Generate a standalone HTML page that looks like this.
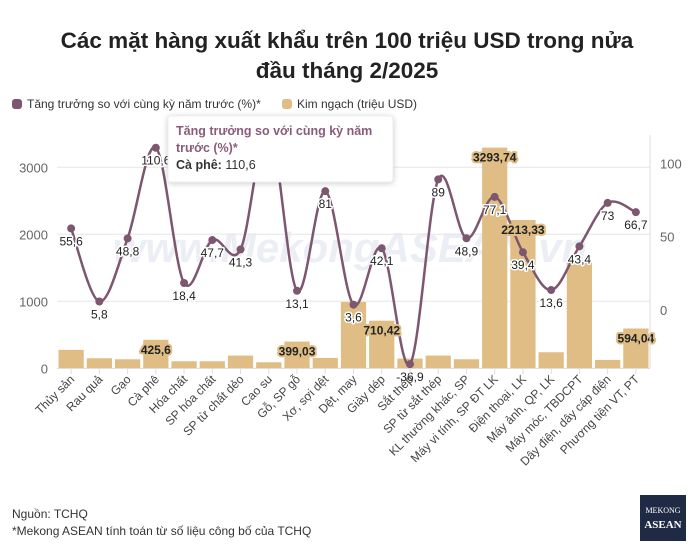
<!DOCTYPE html>
<html><head><meta charset="utf-8"><style>
body{margin:0;background:#fff;font-family:"Liberation Sans",sans-serif;}
#wrap{position:relative;width:695px;height:550px;overflow:hidden;}
</style></head><body>
<div id="wrap">
<svg id="chart" width="695" height="550" xmlns="http://www.w3.org/2000/svg">
<text x="347" y="48" text-anchor="middle" font-size="22.5" font-weight="bold" fill="#222">Các mặt hàng xuất khẩu trên 100 triệu USD trong nửa</text>
<text x="347" y="78" text-anchor="middle" font-size="22.5" font-weight="bold" fill="#222">đầu tháng 2/2025</text>
<g>
<g><rect x="12" y="99" width="10" height="10" rx="3" fill="#7d566f"/><text x="27" y="108" font-size="12" fill="#333">Tăng trưởng so với cùng kỳ năm trước (%)*</text></g>
<g><rect x="282" y="99" width="10" height="10" rx="3" fill="#dfbd85"/><text x="297" y="108" font-size="12" fill="#333">Kim ngạch (triệu USD)</text></g>
</g>
<text x="350" y="262" text-anchor="middle" font-size="42" font-style="italic" font-weight="bold" fill="#eceef5">www.MekongASEAN.vn</text>
<g id="grid"></g><g id="bars"></g><g id="line"></g><g id="labels"></g><g id="axes"></g>
<g>
<rect x="168" y="116" width="225" height="66" rx="3" fill="#fff" stroke="#eee" style="filter:drop-shadow(0 1px 3px rgba(0,0,0,0.2))"/>
<text x="176" y="135" font-size="12.5" font-weight="bold" fill="#8a5c7b">Tăng trưởng so với cùng kỳ năm</text>
<text x="176" y="152" font-size="12.5" font-weight="bold" fill="#8a5c7b">trước (%)*</text>
<text x="176" y="169" font-size="12.5" fill="#333"><tspan font-weight="bold">Cà phê:</tspan> 110,6</text>
</g>
<text x="12" y="518" font-size="12" fill="#333">Nguồn: TCHQ</text>
<text x="12" y="535" font-size="12" fill="#333">*Mekong ASEAN tính toán từ số liệu công bố của TCHQ</text>
<g><rect x="640" y="495" width="46" height="46" fill="#1f2a44"/><text x="663" y="513" text-anchor="middle" font-size="8" fill="#fff" font-family="Liberation Serif,serif">MEKONG</text><text x="663" y="528" text-anchor="middle" font-size="11" font-weight="bold" fill="#fff" font-family="Liberation Serif,serif">ASEAN</text></g>
</svg>
</div>
<script>
const categories=["Thủy sản","Rau quả","Gạo","Cà phê","Hóa chất","SP hóa chất","SP từ chất dẻo","Cao su","Gỗ, SP gỗ","Xơ, sợi dệt","Dệt, may","Giày dép","Sắt thép","SP từ sắt thép","KL thường khác, SP","Máy vi tính, SP ĐT LK","Điện thoại, LK","Máy ảnh, QP, LK","Máy móc, TBDCPT","Dây điện, dây cáp điện","Phương tiện VT, PT"];
const barValues=[275,150,135,425.6,105,105,190,90,399.03,155,990,710.42,145,190,135,3293.74,2213.33,240,1600,125,594.04];
const barLabels=[null,null,null,"425,6",null,null,null,null,"399,03",null,null,"710,42",null,null,null,"3293,74","2213,33",null,null,null,"594,04"];
const growth=[55.6,5.8,48.8,110.6,18.4,47.7,41.3,125,13.1,81,3.6,42.1,-36.9,89,48.9,77.1,39.4,13.6,43.4,73,66.7];
const growthLabels=["55,6","5,8","48,8","110,6","18,4","47,7","41,3",null,"13,1","81","3,6","42,1","-36,9","89","48,9","77,1","39,4","13,6","43,4","73","66,7"];
const leftTicks=[0,1000,2000,3000];
const rightTicks=[0,50,100];
const NS="http://www.w3.org/2000/svg";
const X0=57,X1=650,band=(X1-X0)/categories.length;
const xc=i=>X0+band*(i+0.5);
const yL=v=>368.3-v*(201/3000);
const yR=v=>310-v*1.467;
function mk(tag,attrs,parent){const e=document.createElementNS(NS,tag);for(const k in attrs)e.setAttribute(k,attrs[k]);parent.appendChild(e);return e;}
const G=id=>document.getElementById(id);
leftTicks.forEach(t=>{
 const l=mk('line',{x1:X0,x2:X1,y1:yL(t),y2:yL(t),stroke:'#e6e6e6'},G('grid'));
 
 
 const tx=mk('text',{x:48,y:yL(t)+5,'text-anchor':'end','font-size':13,fill:'#666'},G('axes'));
 tx.textContent=t;
 
 
});
rightTicks.forEach(t=>{
 const tx=mk('text',{x:660,y:yR(t)+5,'font-size':13,fill:'#666'},G('axes'));
 tx.textContent=t;
 
 
});
mk('line',{x1:X1,x2:X1,y1:135,y2:368,stroke:'#ddd'},G('axes'));
mk('line',{x1:X0,x2:X1,y1:368.5,y2:368.5,stroke:'#ddd'},G('axes'));
barValues.forEach((v,i)=>{
 const r=mk('rect',{x:xc(i)-band/2+1.5,y:yL(v),width:band-3,height:368.3-yL(v),fill:'#dfbd85'},G('bars'));
 
 
 if(barLabels[i]){
  const t=mk('text',{x:xc(i),y:yL(v)+14,'text-anchor':'middle','font-size':12,'font-weight':'bold',fill:'#222',stroke:'#dfbd85','stroke-width':4,'paint-order':'stroke','stroke-linejoin':'round'},G('labels'));
  t.textContent=barLabels[i];
  
  
 }
});
categories.forEach((c,i)=>{
 mk('line',{x1:xc(i),x2:xc(i),y1:369,y2:374,stroke:'#ddd'},G('axes'));
 const t=mk('text',{x:0,y:0,'text-anchor':'end','font-size':12,fill:'#444',transform:`translate(${xc(i)+4},${380}) rotate(-45)`},G('axes'));
 t.textContent=c;
 
 
});
const pts=growth.map((v,i)=>[xc(i),yR(v)]);
let d=`M${pts[0][0]},${pts[0][1]}`;
for(let i=0;i<pts.length-1;i++){
 const p0=pts[Math.max(0,i-1)],p1=pts[i],p2=pts[i+1],p3=pts[Math.min(pts.length-1,i+2)];
 const c1=[p1[0]+(p2[0]-p0[0])/6,p1[1]+(p2[1]-p0[1])/6],c2=[p2[0]-(p3[0]-p1[0])/6,p2[1]-(p3[1]-p1[1])/6];
 d+=` C${c1[0]},${c1[1]} ${c2[0]},${c2[1]} ${p2[0]},${p2[1]}`;
}
const path=mk('path',{d:d,fill:'none',stroke:'#7d566f','stroke-width':2.5},G('line'));


pts.forEach((p,i)=>{
 const c=mk('circle',{cx:p[0],cy:p[1],r:4,fill:'#7d566f'},G('line'));
 
 
 if(growthLabels[i]){
  const t=mk('text',{x:p[0],y:p[1]+17,'text-anchor':'middle','font-size':12,fill:'#222',stroke:'#fff','stroke-width':3,'paint-order':'stroke','stroke-linejoin':'round'},G('labels'));
  t.textContent=growthLabels[i];
  
  
 }
});
</script>
</body></html>
